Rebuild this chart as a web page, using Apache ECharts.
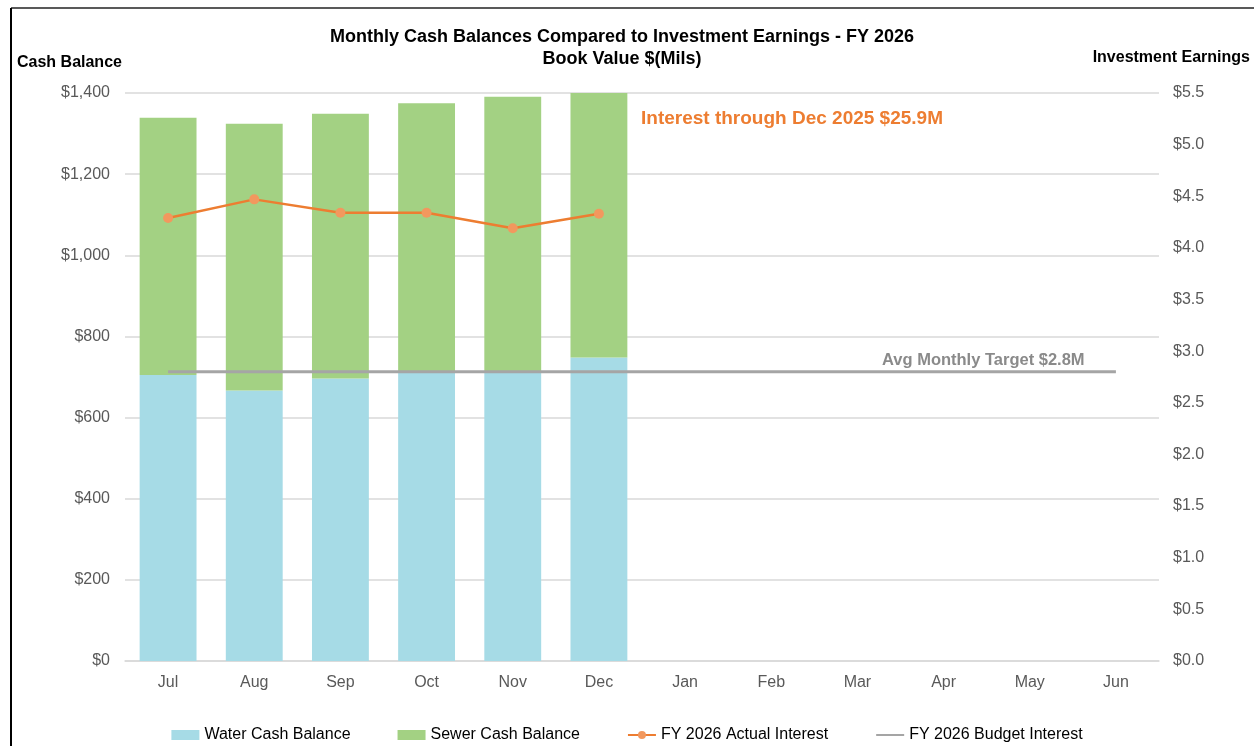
<!DOCTYPE html>
<html>
<head>
<meta charset="utf-8">
<script src="https://cdn.jsdelivr.net/npm/echarts@6/dist/echarts.min.js"></script>
<style>
html, body { margin: 0; padding: 0; background: #fff; }
#main { width: 1254px; height: 746px; }
</style>
</head>
<body>
<div id="main"></div>
<script>
var months = ['Jul', 'Aug', 'Sep', 'Oct', 'Nov', 'Dec', 'Jan', 'Feb', 'Mar', 'Apr', 'May', 'Jun'];
var water = [705, 667, 696, 714, 714, 748];
var sewer = [634, 657, 653, 661, 677, 652];
var actualInterest = [4.29, 4.47, 4.34, 4.34, 4.19, 4.33];
var budgetInterest = [2.8, 2.8, 2.8, 2.8, 2.8, 2.8, 2.8, 2.8, 2.8, 2.8, 2.8, 2.8];

var font = 'Liberation Sans, Arial, sans-serif';
var grey = '#595959';

var chart = echarts.init(document.getElementById('main'));

var option = {
	animation: false,
	textStyle: { fontFamily: font },
	title: {
		text: 'Monthly Cash Balances Compared to Investment Earnings - FY 2026\nBook Value $(Mils)',
		left: 617,
		top: 21,
		textAlign: 'center',
		textStyle: { fontSize: 18, fontWeight: 'bold', color: '#000', lineHeight: 22, fontFamily: font }
	},
	grid: { left: 125, right: 95, top: 93, bottom: 85 },
	legend: {
		bottom: -2,
		left: 'center',
		itemGap: 47,
		itemWidth: 28,
		itemHeight: 10,
		textStyle: { fontSize: 16, color: '#000', fontFamily: font },
		data: [
			{ name: 'Water Cash Balance', icon: 'rect' },
			{ name: 'Sewer Cash Balance', icon: 'rect' },
			{ name: 'FY 2026 Actual Interest' },
			{ name: 'FY 2026 Budget Interest', itemStyle: { opacity: 0 } }
		]
	},
	xAxis: {
		type: 'category',
		data: months,
		axisTick: { show: false },
		axisLine: { lineStyle: { color: '#d9d9d9', width: 1.5 } },
		axisLabel: { fontSize: 16, color: grey, margin: 14, fontFamily: font }
	},
	yAxis: [
		{
			type: 'value',
			min: 0, max: 1400, interval: 200,
			axisLabel: {
				fontSize: 16, color: grey, margin: 15, fontFamily: font,
				formatter: function (v) { return '$' + v.toLocaleString('en-US'); }
			},
			splitLine: { lineStyle: { color: '#d9d9d9', width: 1.5 } },
			axisLine: { show: false }, axisTick: { show: false }
		},
		{
			type: 'value',
			min: 0, max: 5.5, interval: 0.5,
			axisLabel: {
				fontSize: 16, color: grey, margin: 14, fontFamily: font,
				formatter: function (v) { return '$' + v.toFixed(1); }
			},
			splitLine: { show: false },
			axisLine: { show: false }, axisTick: { show: false }
		}
	],
	series: [
		{
			name: 'Water Cash Balance',
			type: 'bar',
			stack: 'cash',
			barWidth: '66%',
			itemStyle: { color: '#A6DBE6' },
			data: water
		},
		{
			name: 'Sewer Cash Balance',
			type: 'bar',
			stack: 'cash',
			itemStyle: { color: '#A3D183' },
			data: sewer
		},
		{
			name: 'FY 2026 Actual Interest',
			type: 'line',
			yAxisIndex: 1,
			symbol: 'circle',
			symbolSize: 10,
			lineStyle: { color: '#ED7D31', width: 2.5 },
			itemStyle: { color: '#F2985E' },
			data: actualInterest,
			z: 5
		},
		{
			name: 'FY 2026 Budget Interest',
			type: 'line',
			yAxisIndex: 1,
			symbol: 'none',
			lineStyle: { color: '#A5A5A5', width: 3 },
			itemStyle: { color: '#A5A5A5' },
			data: budgetInterest,
			z: 4
		}
	],
	graphic: [
		{ type: 'line', shape: { x1: 11, y1: 8, x2: 1254, y2: 8 }, style: { stroke: '#595959', lineWidth: 2 } },
		{ type: 'line', shape: { x1: 11, y1: 8, x2: 11, y2: 746 }, style: { stroke: '#000', lineWidth: 2 } },
		{ type: 'text', left: 17, top: 55, style: { text: 'Cash Balance', font: 'bold 16px ' + font, fill: '#000' } },
		{ type: 'text', right: 4, top: 50, style: { text: 'Investment Earnings', font: 'bold 16px ' + font, fill: '#000' } },
		{ type: 'text', left: 641, top: 109, style: { text: 'Interest through Dec 2025 $25.9M', font: 'bold 19px ' + font, fill: '#ED7D31' } },
		{ type: 'text', left: 882, top: 352, style: { text: 'Avg Monthly Target $2.8M', font: 'bold 16.5px ' + font, fill: '#8a8a8a' } }
	]
};

chart.setOption(option);
</script>
</body>
</html>
